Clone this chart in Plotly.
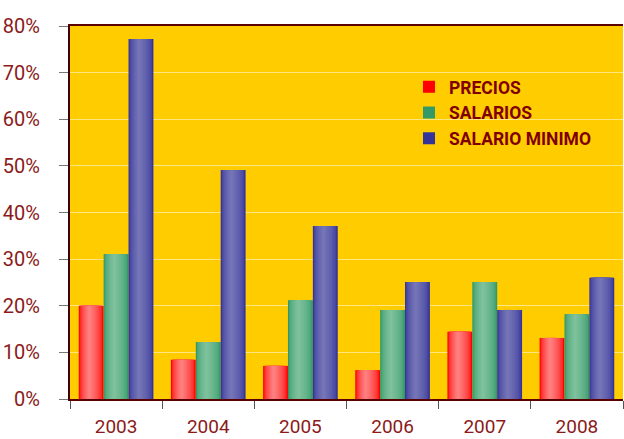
import plotly.graph_objects as go

years = ["2003", "2004", "2005", "2006", "2007", "2008"]
precios = [20.0, 8.4, 7.1, 6.2, 14.4, 13.1]
salarios = [31.1, 12.2, 21.2, 19.1, 25.1, 18.2]
salario_minimo = [77.2, 49.1, 37.1, 25.1, 19.1, 26.0]

series_names = ["PRECIOS", "SALARIOS", "SALARIO MINIMO"]
series_values = [precios, salarios, salario_minimo]
edge_colors = [(255, 0, 0), (51, 153, 102), (51, 51, 153)]
light_colors = [(255, 135, 135), (130, 195, 160), (120, 120, 185)]

BAR_W = 0.27
N_LAYERS = 10
HL = 0.42  # highlight position within bar

fig = go.Figure()
for s, (name, vals) in enumerate(zip(series_names, series_values)):
    a = -1.5 * BAR_W + s * BAR_W
    for k in range(N_LAYERS):
        t = k / N_LAYERS
        left = a + t * HL * BAR_W
        right = a + BAR_W - t * (1 - HL) * BAR_W
        f = t ** 0.55
        e, l = edge_colors[s], light_colors[s]
        col = "rgb(%d,%d,%d)" % tuple(round(e[i] + (l[i] - e[i]) * f) for i in range(3))
        fig.add_trace(go.Bar(
            x=years, y=vals, name=name,
            offset=left, width=right - left,
            marker=dict(color=col, line=dict(width=0)),
            showlegend=(k == 0), legendgroup=name,
            hoverinfo="skip" if k else "x+y+name",
        ))

txt = "#8B1A1A"
fig.update_layout(
    width=624, height=439,
    barmode="overlay",
    paper_bgcolor="white",
    plot_bgcolor="#FFCC00",
    margin=dict(l=70, r=1, t=26, b=40, autoexpand=False),
    font=dict(family="Roboto", color=txt, size=20),
    legend=dict(
        x=0.613, y=0.885, xanchor="left", yanchor="top",
        bgcolor="rgba(0,0,0,0)",
        font=dict(family="Roboto", size=17.5, color="#800000", weight="bold"),
        tracegroupgap=0, itemwidth=30,
    ),
    xaxis=dict(
        type="category", tickson="boundaries",
        ticks="outside", ticklen=8, tickcolor="#555555",
        showline=True, linecolor="#5A0000", linewidth=2, mirror=True,
        showgrid=False, ticklabelstandoff=9, automargin=False,
        tickfont=dict(size=19, color=txt),
    ),
    yaxis=dict(
        range=[0, 80], dtick=10, ticksuffix="%",
        ticks="outside", ticklen=9, tickcolor="#777777",
        showline=True, linecolor="#400000", linewidth=2,
        showgrid=True, gridcolor="#FFE680", gridwidth=1,
        zeroline=False, ticklabelstandoff=15, automargin=False,
        tickfont=dict(size=20, color=txt),
    ),
)

fig.write_html(
    "out.html",
    config={"displayModeBar": False},
    post_script="document.body.style.margin='0';document.body.style.overflow='hidden';",
)
